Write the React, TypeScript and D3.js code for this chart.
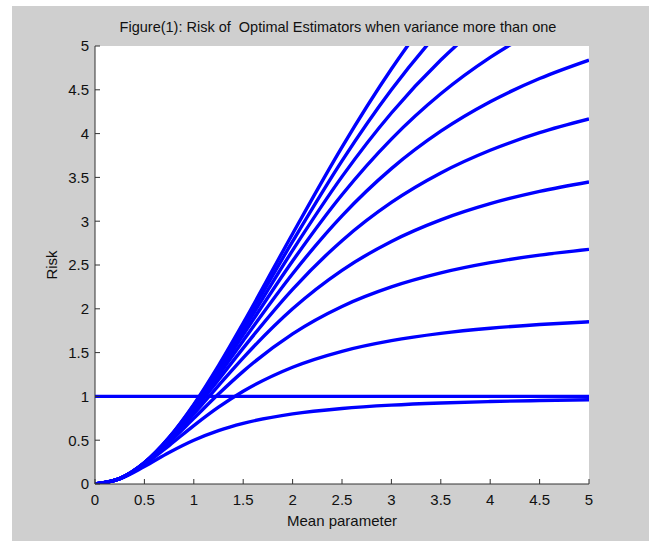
import * as d3 from "d3";

// mean parameter grid
const theta = [0, 0.25, 0.5, 0.75, 1, 1.25, 1.5, 2, 2.5, 3, 3.5, 4, 4.5, 5];

// risk curves (one per variance level)
const risk1 = [0, 0.0588, 0.2, 0.36, 0.5, 0.6098, 0.6923, 0.8, 0.8621, 0.9, 0.9245, 0.9412, 0.9529, 0.9615];
const risk2 = [0, 0.0606, 0.2222, 0.439, 0.6667, 0.8772, 1.0588, 1.3333, 1.5152, 1.6364, 1.7193, 1.7778, 1.8202, 1.8519];
const risk3 = [0, 0.0612, 0.2308, 0.4737, 0.75, 1.0274, 1.2857, 1.7143, 2.027, 2.25, 2.4098, 2.5263, 2.6129, 2.6786];
const risk4 = [0, 0.0615, 0.2353, 0.4932, 0.8, 1.1236, 1.44, 2.0, 2.439, 2.7692, 3.0154, 3.2, 3.3402, 3.4483];
const risk5 = [0, 0.0617, 0.2381, 0.5056, 0.8333, 1.1905, 1.5517, 2.2222, 2.7778, 3.2143, 3.5507, 3.8095, 4.0099, 4.1667];
const risk6 = [0, 0.0619, 0.24, 0.5143, 0.8571, 1.2397, 1.6364, 2.4, 3.0612, 3.6, 4.0274, 4.3636, 4.6286, 4.8387];
const risk7 = [0, 0.0619, 0.2414, 0.5207, 0.875, 1.2774, 1.7027, 2.5455, 3.3019, 3.9375, 4.4545, 4.8696, 5.2018, 5.4688];
const risk8 = [0, 0.062, 0.2424, 0.5255, 0.8889, 1.3072, 1.7561, 2.6667, 3.5088, 4.2353, 4.8395, 5.3333, 5.7345, 6.0606];
const risk9 = [0, 0.0621, 0.2432, 0.5294, 0.9, 1.3314, 1.8, 2.7692, 3.6885, 4.5, 5.1882, 5.76, 6.2308, 6.6176];
const risk10 = [0, 0.0621, 0.2439, 0.5325, 0.9091, 1.3514, 1.8367, 2.8571, 3.8462, 4.7368, 5.5056, 6.1538, 6.6942, 7.1429];
const mleRisk = [1, 1]; // flat risk at theta 0 and 5
const mleTheta = [0, 5];

const curves = [risk1, risk2, risk3, risk4, risk5, risk6, risk7, risk8, risk9, risk10];
const xTicks = [0, 0.5, 1, 1.5, 2, 2.5, 3, 3.5, 4, 4.5, 5];
const yTicks = [0, 0.5, 1, 1.5, 2, 2.5, 3, 3.5, 4, 4.5, 5];

const W = 654;
const H = 541;
const m = { left: 95, right: 589, top: 46, bottom: 484 };
const font = "'Liberation Sans', Arial, sans-serif";

export default function App() {
  const x = d3.scaleLinear().domain([0, 5]).range([m.left, m.right]);
  const y = d3.scaleLinear().domain([0, 5]).range([m.bottom, m.top]);

  const line = d3
    .line<[number, number]>()
    .x((d) => x(d[0]))
    .y((d) => y(d[1]))
    .curve(d3.curveMonotoneX);

  return (
    <div style={{ position: "absolute", left: 0, top: 0 }}>
      <svg width={W} height={H} style={{ display: "block", background: "#fff" }}>
        <rect x={12} y={6} width={637} height={H - 6} fill="#cfcfcf" />
        <rect x={m.left} y={m.top} width={m.right - m.left} height={m.bottom - m.top} fill="#fff" />
        <defs>
          <clipPath id="plot">
            <rect x={m.left} y={m.top} width={m.right - m.left} height={m.bottom - m.top} />
          </clipPath>
        </defs>
        <g clipPath="url(#plot)" fill="none" stroke="#0000ff" strokeWidth={3.4}>
          {curves.map((c, i) => (
            <path key={i} d={line(theta.map((t, j) => [t, c[j]]))!} />
          ))}
          <path d={line(mleTheta.map((t, j) => [t, mleRisk[j]]))!} />
        </g>
        {/* axes, ticks inward like matlab */}
        <g stroke="#333" strokeWidth={1}>
          <line x1={m.left} x2={m.left} y1={m.top} y2={m.bottom} />
          <line x1={m.left} x2={m.right} y1={m.bottom} y2={m.bottom} />
          {yTicks.map((t) => (
            <line key={"y" + t} x1={m.left} x2={m.left + 5} y1={y(t)} y2={y(t)} />
          ))}
          {xTicks.map((t) => (
            <line key={"x" + t} x1={x(t)} x2={x(t)} y1={m.bottom} y2={m.bottom - 5} />
          ))}
        </g>
        <g fontFamily={font} fontSize={15} fill="#111">
          {yTicks.map((t) => (
            <text key={"yl" + t} x={m.left - 6} y={y(t)} dy="0.36em" textAnchor="end">
              {t}
            </text>
          ))}
          {xTicks.map((t) => (
            <text key={"xl" + t} x={x(t)} y={m.bottom + 21} textAnchor="middle">
              {t}
            </text>
          ))}
          <text x={(m.left + m.right) / 2} y={526} textAnchor="middle">
            Mean parameter
          </text>
          <text transform={`translate(57,${(m.top + m.bottom) / 2}) rotate(-90)`} textAnchor="middle">
            Risk
          </text>
          <text x={338} y={32} textAnchor="middle" fontSize={14.5} style={{ whiteSpace: "pre" }}>
            {"Figure(1): Risk of  Optimal Estimators when variance more than one"}
          </text>
        </g>
      </svg>
    </div>
  );
}
